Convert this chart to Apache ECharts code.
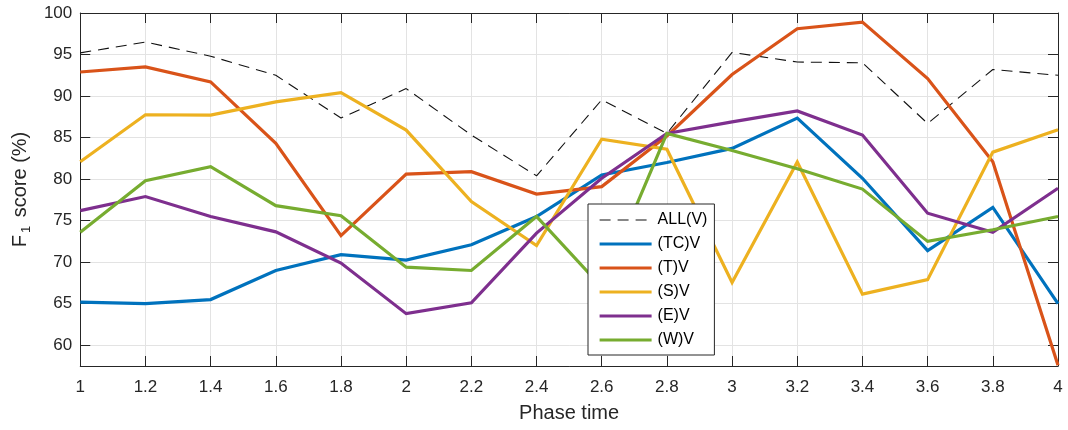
<!DOCTYPE html>
<html>
<head>
<meta charset="utf-8">
<title>F1 score vs phase time</title>
<script src="https://cdn.jsdelivr.net/npm/echarts@6/dist/echarts.min.js"></script>
<style>
  html, body { margin: 0; padding: 0; background: #fff; }
  #chart { width: 1068px; height: 430px; }
</style>
</head>
<body>
<div id="chart"></div>
<script>
// Phase time samples (x) and tick positions
const phaseTime = [1, 1.2, 1.4, 1.6, 1.8, 2, 2.2, 2.4, 2.6, 2.8, 3, 3.2, 3.4, 3.6, 3.8, 4];
const xTicks = [1, 1.2, 1.4, 1.6, 1.8, 2, 2.2, 2.4, 2.6, 2.8, 3, 3.2, 3.4, 3.6, 3.8, 4];
const yTicks = [60, 65, 70, 75, 80, 85, 90, 95, 100];

// F1 scores (%) per feature set
const allV = [95.2, 96.5, 94.8, 92.5, 87.35, 90.9, 85.3, 80.4, 89.55, 85.5, 95.25, 94.1, 94.0, 86.7, 93.2, 92.5];
const tcV  = [65.2, 65.0, 65.5, 69.0, 70.9, 70.25, 72.1, 75.5, 80.5, 82.0, 83.7, 87.35, 80.1, 71.4, 76.6, 65.0];
const tV   = [92.9, 93.5, 91.7, 84.3, 73.2, 80.6, 80.9, 78.2, 79.1, 85.2, 92.6, 98.1, 98.9, 92.1, 82.1, 57.6];
const sV   = [82.1, 87.75, 87.7, 89.3, 90.4, 85.9, 77.3, 72.0, 84.8, 83.6, 67.55, 82.05, 66.15, 67.9, 83.25, 85.95];
const eV   = [76.2, 77.9, 75.5, 73.65, 69.9, 63.8, 65.1, 73.5, 80.1, 85.5, 86.9, 88.2, 85.3, 75.9, 73.6, 78.9];
const wV   = [73.6, 79.8, 81.5, 76.8, 75.6, 69.4, 69.0, 75.5, 67.0, 85.5, 83.45, 81.25, 78.8, 72.5, 73.9, 75.5];

const seriesNames = ['ALL(V)', '(TC)V', '(T)V', '(S)V', '(E)V', '(W)V'];
const seriesValues = [allV, tcV, tV, sV, eV, wV];
const seriesColors = ['#111111', '#0072BD', '#D95319', '#EDB120', '#7E2F8E', '#77AC30'];

const FONT = '"Liberation Sans", Arial, Helvetica, sans-serif';
const INK = '#262626';
const GRID = '#e3e3e3';
const Y_MIN = 57.5, Y_MAX = 100;

const chart = echarts.init(document.getElementById('chart'), null, { renderer: 'canvas' });

const series = seriesNames.map((name, k) => ({
  name: name,
  type: 'line',
  xAxisIndex: 0,
  yAxisIndex: 0,
  data: phaseTime.map((x, i) => [x, seriesValues[k][i]]),
  symbol: 'none',
  showSymbol: false,
  smooth: false,
  animation: false,
  color: seriesColors[k],
  lineStyle: k === 0
    ? { color: seriesColors[k], width: 1.1, type: [11, 7] }
    : { color: seriesColors[k], width: 3.2, cap: 'butt', join: 'miter' },
  emphasis: { disabled: true }
}));

const tickCommon = { show: true, inside: true, length: 10, lineStyle: { color: INK, width: 1 } };

chart.setOption({
  backgroundColor: '#fff',
  animation: false,
  textStyle: { fontFamily: FONT },
  grid: { left: 78, right: 10, top: 13, bottom: 64, containLabel: false },
  xAxis: [
    {
      type: 'value', position: 'bottom', min: 1, max: 4,
      name: 'Phase time', nameLocation: 'middle', nameGap: 37,
      nameTextStyle: { fontSize: 20, color: INK, fontFamily: FONT },
      axisLine: { show: true, onZero: false, lineStyle: { color: INK, width: 1 } },
      axisTick: Object.assign({ customValues: xTicks }, tickCommon),
      axisLabel: { customValues: xTicks, fontSize: 17, color: INK, margin: 13, fontFamily: FONT },
      splitLine: { show: true, lineStyle: { color: GRID, width: 1 } }
    },
    {
      type: 'value', position: 'top', min: 1, max: 4,
      axisLine: { show: true, onZero: false, lineStyle: { color: INK, width: 1 } },
      axisTick: Object.assign({ customValues: xTicks }, tickCommon),
      axisLabel: { show: false },
      splitLine: { show: false }
    }
  ],
  yAxis: [
    {
      type: 'value', position: 'left', min: Y_MIN, max: Y_MAX,
      name: '{a|F}{s|1}{a| score (%)}', nameLocation: 'middle', nameGap: 44, nameRotate: 90,
      nameTextStyle: {
        color: INK, fontFamily: FONT,
        rich: {
          a: { fontSize: 20, color: INK, fontFamily: FONT, lineHeight: 24 },
          s: { fontSize: 13, color: INK, fontFamily: FONT, padding: [12, 3, 0, 2], lineHeight: 24 }
        }
      },
      axisLine: { show: true, onZero: false, lineStyle: { color: INK, width: 1 } },
      axisTick: Object.assign({ customValues: yTicks }, tickCommon),
      axisLabel: { customValues: yTicks, fontSize: 17, color: INK, margin: 8, fontFamily: FONT },
      splitLine: { show: true, lineStyle: { color: GRID, width: 1 } }
    },
    {
      type: 'value', position: 'right', min: Y_MIN, max: Y_MAX,
      axisLine: { show: true, onZero: false, lineStyle: { color: INK, width: 1 } },
      axisTick: Object.assign({ customValues: yTicks }, tickCommon),
      axisLabel: { show: false },
      splitLine: { show: false }
    }
  ],
  legend: {
    show: true,
    orient: 'vertical',
    left: 588,
    top: 204,
    z: 20,
    data: seriesNames,
    backgroundColor: '#fff',
    borderColor: INK,
    borderWidth: 1,
    borderRadius: 0,
    padding: [8, 7, 7, 10],
    itemWidth: 52,
    itemHeight: 16,
    itemGap: 8,
    selectedMode: false,
    // keep only the line sample in each legend entry, drawn at the series width
    itemStyle: { opacity: 0 },
    lineStyle: { width: 'inherit' },
    textStyle: { fontSize: 16, color: '#000', fontFamily: FONT, padding: [0, 0, 0, 1] }
  },
  series: series
});
</script>
</body>
</html>
